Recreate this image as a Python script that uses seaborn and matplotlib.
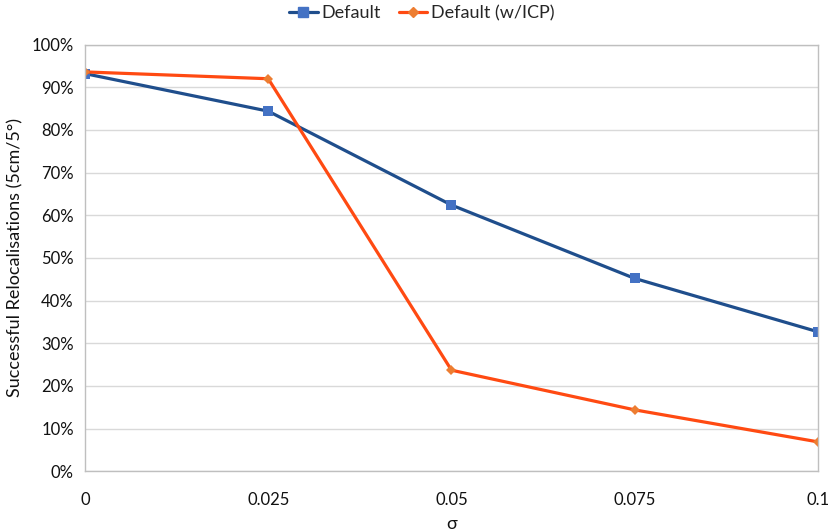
import matplotlib
matplotlib.use('Agg')
import matplotlib.pyplot as plt
from matplotlib.ticker import PercentFormatter
import seaborn as sns
import pandas as pd

sigma = [0, 0.025, 0.05, 0.075, 0.1]
sigma_labels = ['0', '0.025', '0.05', '0.075', '0.1']
default_vals = [93.2, 84.4, 62.4, 45.2, 32.7]
icp_vals = [93.6, 92.0, 23.7, 14.4, 6.9]
series_names = ['Default', 'Default (w/ICP)']

line_colors = ['#1F4E8C', '#FF4A12']
marker_colors = ['#4472C4', '#ED7D31']

df = pd.DataFrame({
    'sigma': sigma * 2,
    'value': default_vals + icp_vals,
    'series': [series_names[0]] * len(sigma) + [series_names[1]] * len(sigma),
})

sns.set_style('white')
plt.rcParams['font.family'] = ['Lato', 'DejaVu Sans']

fig = plt.figure(figsize=(8.3, 5.31), dpi=100)
ax = fig.add_axes([0.1024, 0.1124, 0.8831, 0.8036])

sns.lineplot(data=df, x='sigma', y='value', hue='series', style='series',
             palette=line_colors, markers=['s', 'D'], dashes=False,
             linewidth=2.3, markersize=7, markeredgewidth=0, ax=ax, legend=False)

for line, mc, ms in zip(ax.lines, marker_colors, [7, 5.5]):
    line.set_markerfacecolor(mc)
    line.set_markeredgecolor(mc)
    line.set_markersize(ms)

ax.set_xlim(0, 0.1)
ax.set_ylim(0, 100)
ax.set_xticks(sigma)
ax.set_xticklabels(sigma_labels)
ax.set_yticks(range(0, 101, 10))
ax.yaxis.set_major_formatter(PercentFormatter(decimals=0))
ax.grid(axis='y', color='#D9D9D9', linewidth=1)
ax.set_axisbelow(True)
for s in ax.spines.values():
    s.set_color('#BFBFBF')
    s.set_linewidth(1)
ax.tick_params(axis='x', direction='out', length=5, color='#BFBFBF', labelsize=12, pad=10, labelcolor='#111111')
ax.tick_params(axis='y', length=0, labelsize=12, pad=8, labelcolor='#111111')

ax.set_xlabel('σ', fontsize=13, color='#111111', labelpad=6)
ax.set_ylabel('Successful Relocalisations (5cm/5°)', fontsize=13, color='#111111', labelpad=6)

handles = [
    plt.Line2D([], [], color=line_colors[0], lw=2.3, marker='s', ms=7,
               mfc=marker_colors[0], mec=marker_colors[0]),
    plt.Line2D([], [], color=line_colors[1], lw=2.3, marker='D', ms=5.5,
               mfc=marker_colors[1], mec=marker_colors[1]),
]
fig.legend(handles, series_names, loc='center', bbox_to_anchor=(0.508, 0.975), ncol=2,
           frameon=False, fontsize=13, handlelength=1.6, handletextpad=0.2, columnspacing=1.0)

fig.savefig('out.png', dpi=100)
